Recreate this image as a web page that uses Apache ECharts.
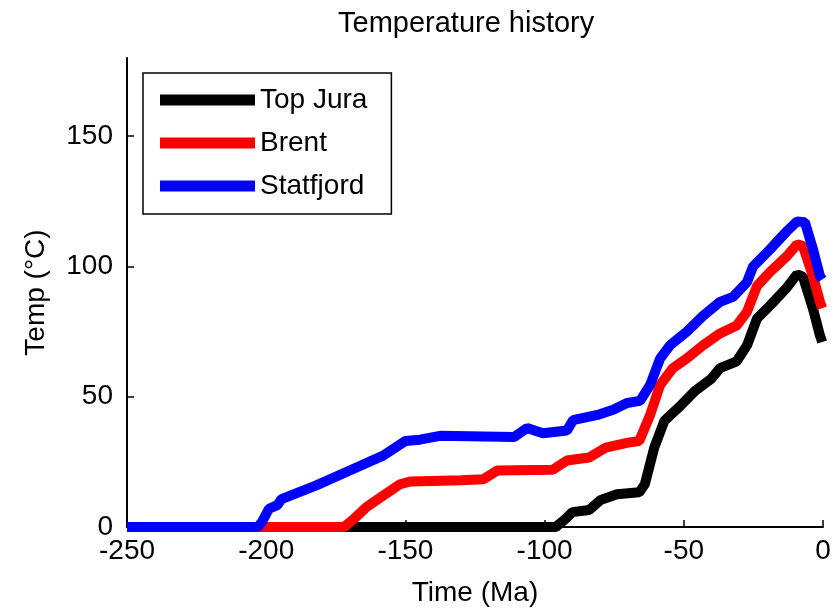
<!DOCTYPE html>
<html>
<head>
<meta charset="utf-8">
<script src="https://cdn.jsdelivr.net/npm/echarts@6/dist/echarts.min.js"></script>
<style>
  html, body { margin: 0; padding: 0; background: #fff; }
  #chart { width: 839px; height: 612px; }
</style>
</head>
<body>
<div id="chart"></div>
<script>
// ---- Data ----
const seriesNames = ['Top Jura', 'Brent', 'Statfjord'];
const seriesColors = ['#000000', '#ff0000', '#0000ff'];

const topJuraTime = [-250, -96, -93, -90, -84, -80, -74, -66, -64, -60.6, -57, -52, -46, -40, -37, -31, -27.3, -23.7, -19, -12.9, -9.3, -7.2, -3.6, -1.1, -0.3];
const topJuraTemp = [0, 0, 2.6, 5.7, 6.5, 10.3, 12.6, 13.3, 16.4, 30.5, 40.7, 45.7, 52.2, 57, 61, 63.6, 69.7, 80, 85, 92, 97, 96, 83.8, 73.5, 71];

const brentTime = [-250, -172, -169, -164, -158, -152, -148, -130, -122, -117, -97, -92, -84, -78, -70, -66, -62.1, -58.5, -53.9, -48.9, -43.1, -37, -31, -27.3, -23.7, -19, -12.9, -9.3, -7.2, -3.6, -1.1, -0.3];
const brentTemp = [0, 0, 2.6, 7.6, 12, 16.4, 17.5, 17.9, 18.3, 21.7, 22, 25.5, 26.7, 30.5, 32.4, 33, 43, 54.5, 61, 64.7, 69.7, 74.3, 77.3, 82.6, 92.5, 97.9, 104, 108.5, 107.8, 96.3, 86.4, 84];

const statfjordTime = [-250, -203, -201.5, -199, -196, -194.5, -182, -170, -158, -150, -144.8, -137.6, -111, -106.3, -100.6, -92, -89.8, -81, -75.4, -70.4, -65.7, -62.1, -58.5, -55, -48.9, -43.1, -37, -32.3, -27.3, -25.1, -19, -12.9, -9.3, -6.5, -3.6, -1.1, -0.3];
const statfjordTemp = [0, 0, 2, 7, 8.4, 10.7, 16, 21.7, 27.4, 33, 33.5, 35, 34.5, 38, 36, 37, 41, 43, 45, 47.6, 48.4, 54.5, 64.7, 69.7, 75, 81, 86.4, 88.3, 94, 100, 106.6, 113.6, 117.3, 117, 106.6, 96.3, 95];

const xTicks = [-250, -200, -150, -100, -50, 0];
const yTicks = [0, 50, 100, 150];

// ---- Build ----
function pairs(ts, vs) { return ts.map((t, i) => [t, vs[i]]); }
const allTimes = [topJuraTime, brentTime, statfjordTime];
const allTemps = [topJuraTemp, brentTemp, statfjordTemp];

const textFont = '"Liberation Sans", Arial, sans-serif';

const chart = echarts.init(document.getElementById('chart'), null, { renderer: 'canvas' });
chart.setOption({
  backgroundColor: '#ffffff',
  animation: false,
  title: {
    text: 'Temperature history',
    left: 338, top: 9, padding: 0,
    textStyle: { fontFamily: textFont, fontSize: 29, fontWeight: 'normal', color: '#000' }
  },
  legend: {
    data: seriesNames,
    orient: 'vertical',
    left: 143, top: 73,
    padding: [13, 24, 14, 17],
    itemGap: 15,
    itemWidth: 95, itemHeight: 11,
    icon: 'rect',
    borderColor: '#000', borderWidth: 1.5,
    backgroundColor: '#fff',
    textStyle: { fontFamily: textFont, fontSize: 28, color: '#000' }
  },
  grid: { left: 127, right: 16, top: 58, bottom: 82, containLabel: false },
  xAxis: {
    type: 'value', min: -250, max: 0, interval: 50,
    name: 'Time (Ma)', nameLocation: 'middle', nameGap: 52,
    nameTextStyle: { fontFamily: textFont, fontSize: 28, color: '#000' },
    axisLine: { show: true, onZero: false, lineStyle: { color: '#000', width: 2 } },
    axisTick: { show: true, inside: true, length: 7, lineStyle: { color: '#000', width: 1.5 }, customValues: xTicks },
    axisLabel: { margin: 10, fontFamily: textFont, fontSize: 28, color: '#000', customValues: xTicks },
    splitLine: { show: false }
  },
  yAxis: {
    type: 'value', min: 0, max: 180, interval: 50,
    name: 'Temp (°C)', nameLocation: 'middle', nameGap: 77, nameRotate: 90,
    nameTextStyle: { fontFamily: textFont, fontSize: 28, color: '#000' },
    axisLine: { show: true, onZero: false, lineStyle: { color: '#000', width: 2 } },
    axisTick: { show: true, inside: true, length: 7, lineStyle: { color: '#000', width: 1.5 }, customValues: yTicks },
    axisLabel: { margin: 14, fontFamily: textFont, fontSize: 28, color: '#000', customValues: yTicks },
    splitLine: { show: false }
  },
  series: seriesNames.map((n, i) => ({
    name: n,
    type: 'line',
    data: pairs(allTimes[i], allTemps[i]),
    showSymbol: false,
    symbol: 'none',
    clip: false,
    color: seriesColors[i],
    lineStyle: { color: seriesColors[i], width: 10 },
    itemStyle: { color: seriesColors[i] },
    z: 2 + i
  }))
});
</script>
</body>
</html>
